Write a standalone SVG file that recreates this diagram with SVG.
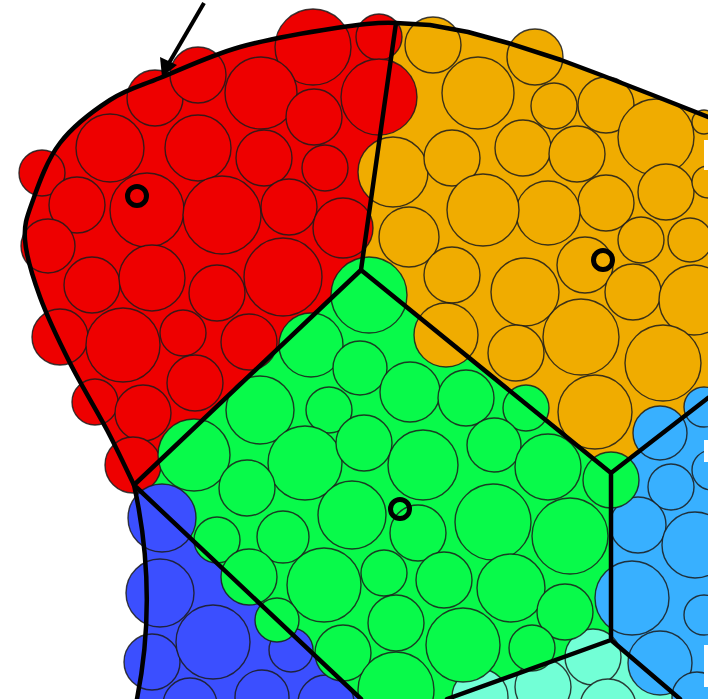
<svg xmlns="http://www.w3.org/2000/svg" width="708" height="699" viewBox="0 0 708 699">
<style>
.R{fill:#ee0000}.O{fill:#f0ac00}.G{fill:#08fa4a}.B{fill:#3b4fff}.L{fill:#38b0ff}.A{fill:#72ffd6}
circle{stroke:#1b1b1b;stroke-opacity:.85;stroke-width:1.4}
.ln{fill:none;stroke:#000;stroke-width:4.5;stroke-linejoin:round;stroke-linecap:round}
.mk{fill:none;stroke:#000;stroke-width:5;stroke-opacity:1}
</style>
<rect width="708" height="699" fill="#fff"/>
<g id="fills">
<path class="R" d="M134,485 C129.5,475.8 117.7,450.3 107,430 C96.3,409.7 81.2,385.2 70,363 C58.8,340.8 47.5,317.5 40,297 C32.5,276.5 26.2,256.2 25,240 C23.8,223.8 27.2,216.2 33,200 C38.8,183.8 47.2,159.7 60,143 C72.8,126.3 93.3,110.8 110,100 C126.7,89.2 138.3,86.8 160,78 C181.7,69.2 210.7,55.3 240,47 C269.3,38.7 310,32 336,28 C362,24 386,22.2 396,23 L361,270 Z"/>
<path class="O" d="M396,23 L430,25 L468,32 L508,43 L561,60 L601,75 L650,94 L708,117 L708,398 L611,473 L361,270 Z"/>
<path class="L" d="M708,398 L611,473 L611,640 L680,699 L708,699 Z"/>
<path class="A" d="M611,640 L447,699 L680,699 Z"/>
<path class="G" d="M134,485 L361,270 L611,473 L611,640 L447,699 L361,699 Z"/>
<path class="B" d="M134,485 L361,699 L137,699 Q158,593 134,485 Z"/>
</g>
<g id="red">
<circle class="R" cx="155" cy="98" r="28"/><circle class="R" cx="198" cy="75" r="28"/><circle class="R" cx="110" cy="148" r="34"/><circle class="R" cx="198" cy="148" r="33"/><circle class="R" cx="42" cy="173" r="23"/><circle class="R" cx="77" cy="205" r="28"/><circle class="R" cx="147" cy="210" r="37"/><circle class="R" cx="222" cy="215" r="39"/><circle class="R" cx="48" cy="246" r="27"/><circle class="R" cx="313" cy="47" r="38"/><circle class="R" cx="379" cy="37" r="23"/><circle class="R" cx="261" cy="93" r="36"/><circle class="R" cx="379" cy="97" r="38"/><circle class="R" cx="314" cy="117" r="28"/><circle class="R" cx="264" cy="158" r="28"/><circle class="R" cx="325" cy="168" r="23"/><circle class="R" cx="289" cy="207" r="28"/><circle class="R" cx="343" cy="228" r="30"/><circle class="R" cx="92" cy="285" r="28"/><circle class="R" cx="152" cy="278" r="33"/><circle class="R" cx="217" cy="293" r="28"/><circle class="R" cx="60" cy="337" r="28"/><circle class="R" cx="123" cy="345" r="37"/><circle class="R" cx="183" cy="333" r="23"/><circle class="R" cx="249" cy="342" r="28"/><circle class="R" cx="283" cy="277" r="39"/><circle class="R" cx="95" cy="402" r="23"/><circle class="R" cx="143" cy="413" r="28"/><circle class="R" cx="195" cy="383" r="28"/><circle class="R" cx="133" cy="465" r="28"/>
</g>
<g id="orange">
<circle class="O" cx="433" cy="45" r="28"/><circle class="O" cx="478" cy="93" r="36"/><circle class="O" cx="393" cy="172" r="35"/><circle class="O" cx="452" cy="158" r="28"/><circle class="O" cx="535" cy="57" r="28"/><circle class="O" cx="554" cy="106" r="23"/><circle class="O" cx="606" cy="105" r="28"/><circle class="O" cx="523" cy="148" r="28"/><circle class="O" cx="577" cy="154" r="28"/><circle class="O" cx="656" cy="137" r="38"/><circle class="O" cx="704" cy="122" r="12"/><circle class="O" cx="666" cy="192" r="28"/><circle class="O" cx="708" cy="182" r="16"/><circle class="O" cx="606" cy="203" r="28"/><circle class="O" cx="548" cy="213" r="32"/><circle class="O" cx="483" cy="210" r="36"/><circle class="O" cx="409" cy="237" r="30"/><circle class="O" cx="452" cy="275" r="28"/><circle class="O" cx="446" cy="335" r="32"/><circle class="O" cx="641" cy="240" r="23"/><circle class="O" cx="690" cy="240" r="22"/><circle class="O" cx="525" cy="292" r="34"/><circle class="O" cx="585" cy="265" r="28"/><circle class="O" cx="633" cy="292" r="28"/><circle class="O" cx="694" cy="300" r="35"/><circle class="O" cx="581" cy="337" r="38"/><circle class="O" cx="516" cy="353" r="28"/><circle class="O" cx="663" cy="363" r="38"/><circle class="O" cx="595" cy="412" r="37"/>
</g>
<g id="lightblue">
<circle class="L" cx="660" cy="433" r="27"/><circle class="L" cx="704" cy="407" r="20"/><circle class="L" cx="712" cy="470" r="20"/><circle class="L" cx="671" cy="487" r="23"/><circle class="L" cx="638" cy="525" r="28"/><circle class="L" cx="695" cy="545" r="33"/><circle class="L" cx="632" cy="598" r="37"/><circle class="L" cx="704" cy="615" r="20"/><circle class="L" cx="660" cy="663" r="32"/><circle class="L" cx="697" cy="697" r="25"/>
</g>
<g id="aqua">
<circle class="A" cx="593" cy="657" r="28"/><circle class="A" cx="543" cy="687" r="28"/><circle class="A" cx="480" cy="697" r="28"/><circle class="A" cx="608" cy="707" r="28"/>
</g>
<g id="blue">
<circle class="B" cx="162" cy="518" r="34"/><circle class="B" cx="160" cy="593" r="34"/><circle class="B" cx="152" cy="662" r="28"/><circle class="B" cx="190" cy="705" r="27"/><circle class="B" cx="213" cy="642" r="37"/><circle class="B" cx="291" cy="650" r="22"/><circle class="B" cx="262" cy="697" r="27"/><circle class="B" cx="326" cy="703" r="28"/>
</g>
<g id="green">
<circle class="G" cx="369" cy="295" r="38"/><circle class="G" cx="311" cy="345" r="32"/><circle class="G" cx="360" cy="368" r="27"/><circle class="G" cx="410" cy="392" r="30"/><circle class="G" cx="260" cy="410" r="34"/><circle class="G" cx="329" cy="410" r="23"/><circle class="G" cx="466" cy="398" r="28"/><circle class="G" cx="305" cy="463" r="37"/><circle class="G" cx="364" cy="443" r="28"/><circle class="G" cx="423" cy="465" r="35"/><circle class="G" cx="194" cy="455" r="36"/><circle class="G" cx="247" cy="488" r="28"/><circle class="G" cx="217" cy="540" r="23"/><circle class="G" cx="283" cy="537" r="26"/><circle class="G" cx="352" cy="515" r="34"/><circle class="G" cx="418" cy="533" r="28"/><circle class="G" cx="493" cy="522" r="38"/><circle class="G" cx="249" cy="577" r="28"/><circle class="G" cx="324" cy="585" r="37"/><circle class="G" cx="384" cy="573" r="23"/><circle class="G" cx="444" cy="580" r="28"/><circle class="G" cx="277" cy="620" r="22"/><circle class="G" cx="396" cy="623" r="28"/><circle class="G" cx="463" cy="645" r="37"/><circle class="G" cx="343" cy="653" r="28"/><circle class="G" cx="396" cy="690" r="38"/><circle class="G" cx="526" cy="408" r="23"/><circle class="G" cx="494" cy="445" r="27"/><circle class="G" cx="548" cy="467" r="33"/><circle class="G" cx="611" cy="480" r="28"/><circle class="G" cx="570" cy="536" r="38"/><circle class="G" cx="511" cy="588" r="34"/><circle class="G" cx="565" cy="612" r="28"/><circle class="G" cx="532" cy="648" r="23"/>
</g>
<g id="edge" fill="#fff">
<rect x="704" y="140" width="4" height="30"/><rect x="704" y="440" width="4" height="22"/><rect x="704" y="645" width="4" height="42"/>
</g>
<g id="connectors">
<path class="ln" d="M137,699 Q158,593 134,485 C129.5,475.8 117.7,450.3 107,430 C96.3,409.7 81.2,385.2 70,363 C58.8,340.8 47.5,317.5 40,297 C32.5,276.5 26.2,256.2 25,240 C23.8,223.8 27.2,216.2 33,200 C38.8,183.8 47.2,159.7 60,143 C72.8,126.3 93.3,110.8 110,100 C126.7,89.2 138.3,86.8 160,78 C181.7,69.2 210.7,55.3 240,47 C269.3,38.7 310,32 336,28 C362,24 386,22.2 396,23 L430,25 L468,32 L508,43 L561,60 L601,75 L650,94 L708,117"/>
<path class="ln" d="M396,23 L361,270 L134,485 M361,270 L611,473 L708,398 M611,473 L611,640 L447,699 M611,640 L680,699 M134,485 L361,699"/>
</g>
<g id="markers">
<circle class="mk" cx="137" cy="196" r="9.5"/><circle class="mk" cx="603" cy="260" r="9.5"/><circle class="mk" cx="400" cy="509" r="9.5"/>
</g>
<g id="arrow">
<line x1="204" y1="3" x2="169" y2="63" stroke="#000" stroke-width="4"/>
<polygon points="162,77 160,57 177,65" fill="#000"/>
</g>
</svg>
